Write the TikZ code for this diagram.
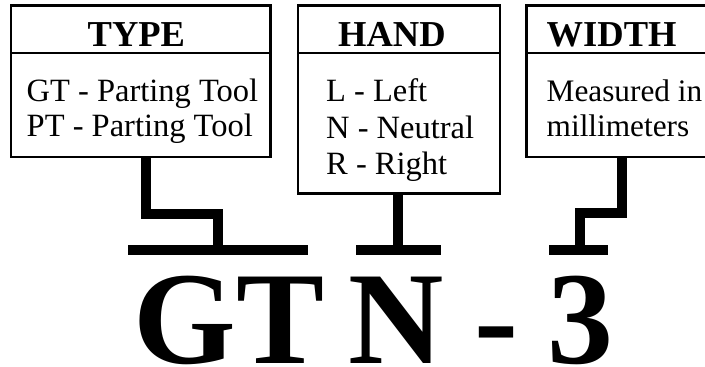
\documentclass[tikz,border=0pt]{standalone}
\usepackage{fontspec}
\setmainfont{Liberation Serif}
\begin{document}
\begin{tikzpicture}[x=1pt,y=-1pt,
  box/.style={draw, line width=2.4pt, rectangle, inner sep=0pt, outer sep=0pt, anchor=north west},
  divider/.style={line width=2.4pt},
  head/.style={font=\fontsize{36.5}{40}\selectfont\bfseries, anchor=base west, inner sep=0pt},
  body/.style={font=\fontsize{32.5}{36}\selectfont, anchor=base west, inner sep=0pt},
  bodyw/.style={font=\fontsize{31.3}{36}\selectfont, anchor=base west, inner sep=0pt},
  big/.style={font=\fontsize{132}{140}\selectfont\bfseries, anchor=base, inner sep=0pt},
  conn/.style={line width=10pt, line cap=butt, line join=miter}]
\clip (0,0) rectangle (705,367);
\fill[white] (0,0) rectangle (705,367);
% boxes
\node[box, minimum width=259.5pt, minimum height=151.7pt] (typebox) at (11,5.3) {};
\node[box, minimum width=201.7pt, minimum height=188pt] (handbox) at (298,5.3) {};
\node[box, minimum width=250pt, minimum height=151.7pt] (widthbox) at (526.3,5.3) {};
\draw[divider] (typebox.west |- 0,53) -- (typebox.east |- 0,53);
\draw[divider] (handbox.west |- 0,53) -- (handbox.east |- 0,53);
\draw[divider] (widthbox.west |- 0,53) -- (widthbox.east |- 0,53);
% headers
\node[head] (typehead) at (87.5,46.7) {TYPE};
\node[head] (handhead) at (338,46.7) {HAND};
\node[head] (widthhead) at (546.5,46.7) {WIDTH};
% body text
\node[body] (gt) at (26.5,101.7) {GT - Parting Tool};
\node[body] (pt) at (26.5,136.7) {PT - Parting Tool};
\node[body] (hl) at (326,101.7) {L - Left};
\node[body] (hn) at (326,138) {N - Neutral};
\node[body] (hr) at (326,174.5) {R - Right};
\node[bodyw] (wm) at (546.5,101.7) {Measured in};
\node[bodyw] (wmm) at (546.5,136.7) {millimeters};
% big code
\node[big] (codegt) at (229,363) {GT};
\node[big] (coden) at (396,363) {N};
\node[big] (codedash) at (496.5,363) {-};
\node[big] (code3) at (580,363) {3};
% bars
\coordinate (tb1) at (128,250);
\coordinate (tb2) at (307.5,250);
\coordinate (hb1) at (356,249.5);
\coordinate (hb2) at (441,249.5);
\coordinate (wb1) at (549,250);
\coordinate (wb2) at (608,250);
\draw[conn] (tb1) -- (tb2);
\draw[conn] (hb1) -- (hb2);
\draw[conn] (wb1) -- (wb2);
% connectors
\draw[conn] (typebox.south -| 146,0) |- (217.7,213.7) -- (tb1 -| 217.7,0);
\draw[conn] (handbox.south -| 397.5,0) -- (hb1 -| 397.5,0);
\draw[conn] (widthbox.south -| 622,0) |- (580,213) -- (wb1 -| 580,0);
\end{tikzpicture}
\end{document}
